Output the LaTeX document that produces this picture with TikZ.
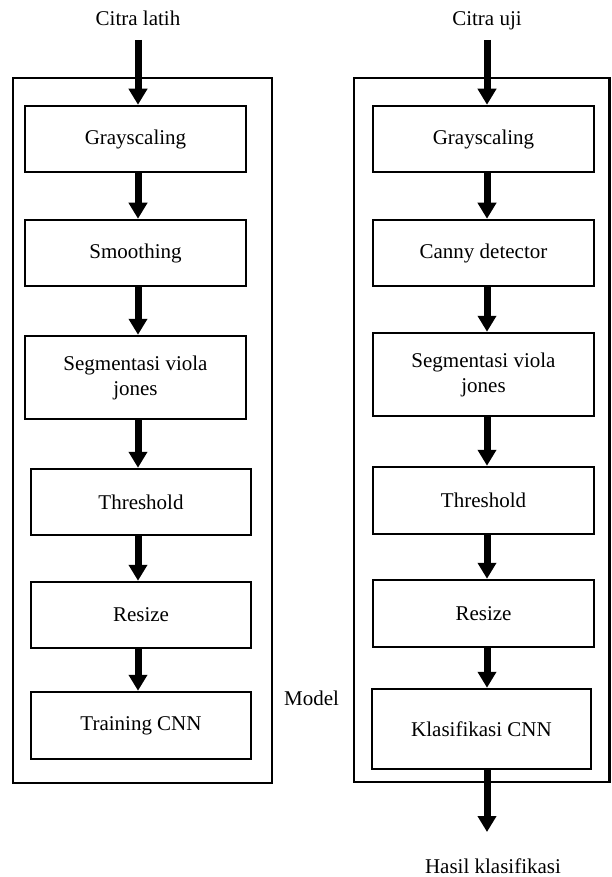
\documentclass[tikz,border=0pt]{standalone}
\usepackage{fontspec}
\setmainfont{Liberation Serif}
\usetikzlibrary{arrows.meta}
\begin{document}
\begin{tikzpicture}[x=1pt,y=-1pt,
  box/.style={draw, line width=2.5pt, align=center, inner sep=0pt, font=\fontsize{21}{25}\selectfont},
  lbl/.style={inner sep=0pt, anchor=base, font=\fontsize{21}{25}\selectfont},
  frame/.style={draw, line width=2.5pt},
  arr/.style={line width=7pt, -{Triangle[width=18pt,length=16pt]}}]
\useasboundingbox (0,0) rectangle (611,877);
% outer frames
\draw[frame] (13,78) rectangle (272,783);
\draw[frame] (354,78) rectangle (609.5,782);
% labels
\node[lbl] (cl) at (138,26) {Citra latih};
\node[lbl] (cu) at (487,26) {Citra uji};
\node[lbl] (model) at (311.5,705) {Model};
\node[lbl] (hasil) at (493,873) {Hasil klasifikasi};
\coordinate (cls) at (138,40);
\coordinate (cus) at (487,40);
% left column
\node[box, minimum width=221pt, minimum height=66pt] (g1) at (135.5,139) {Grayscaling};
\node[box, minimum width=221pt, minimum height=66pt] (s1) at (135.5,253) {Smoothing};
\node[box, minimum width=221pt, minimum height=83pt] (v1) at (135.5,377.5) {Segmentasi viola\\jones};
\node[box, minimum width=220pt, minimum height=66pt] (t1) at (141,502) {Threshold};
\node[box, minimum width=220pt, minimum height=66pt] (r1) at (141,615) {Resize};
\node[box, minimum width=220pt, minimum height=67pt] (c1) at (141,725.5) {Training CNN};
% right column
\node[box, minimum width=221pt, minimum height=66pt] (g2) at (483.5,139) {Grayscaling};
\node[box, minimum width=221pt, minimum height=66pt] (d2) at (483.5,253) {Canny detector};
\node[box, minimum width=221pt, minimum height=83pt] (v2) at (483.5,374.5) {Segmentasi viola\\jones};
\node[box, minimum width=221pt, minimum height=67pt] (t2) at (483.5,500.5) {Threshold};
\node[box, minimum width=221pt, minimum height=67pt] (r2) at (483.5,613.5) {Resize};
\node[box, minimum width=219pt, minimum height=80pt] (c2) at (481.5,729) {Klasifikasi CNN};
\coordinate (end) at (487,832);
% left arrows
\draw[arr] (cls) -- (g1.north -| cl);
\draw[arr] (g1.south -| cl) -- (s1.north -| cl);
\draw[arr] (s1.south -| cl) -- (v1.north -| cl);
\draw[arr] (v1.south -| cl) -- (t1.north -| cl);
\draw[arr] (t1.south -| cl) -- (r1.north -| cl);
\draw[arr] (r1.south -| cl) -- (c1.north -| cl);
% right arrows
\draw[arr] (cus) -- (g2.north -| cu);
\draw[arr] (g2.south -| cu) -- (d2.north -| cu);
\draw[arr] (d2.south -| cu) -- (v2.north -| cu);
\draw[arr] (v2.south -| cu) -- (t2.north -| cu);
\draw[arr] (t2.south -| cu) -- (r2.north -| cu);
\draw[arr] (r2.south -| cu) -- (c2.north -| cu);
\draw[arr] (c2.south -| cu) -- (end);
\end{tikzpicture}
\end{document}
